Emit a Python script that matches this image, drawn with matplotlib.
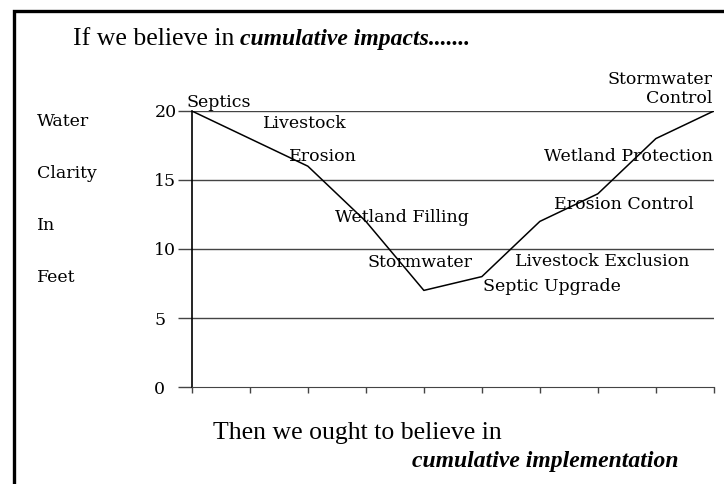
import matplotlib.pyplot as plt
from matplotlib.patches import Rectangle

# water clarity (feet) after each step
steps = ["Septics", "Livestock", "Erosion", "Wetland Filling", "Stormwater",
         "Septic Upgrade", "Livestock Exclusion", "Erosion Control",
         "Wetland Protection", "Stormwater\nControl"]
x = list(range(10))
clarity = [20, 18, 16, 12, 7, 8, 12, 14, 18, 20]
yticks = [0, 5, 10, 15, 20]

# label positions (data coords) and alignment
lab_x = [-0.10, 1.22, 1.67, 2.47, 3.02, 5.02, 5.57, 6.24, 8.98, 8.98]
lab_y = [20.6, 19.1, 16.7, 12.3, 9.0, 7.25, 9.1, 13.2, 16.7, 21.6]
lab_ha = ["left"] * 8 + ["right", "right"]

serif = ["DejaVu Serif"]
times = ["Liberation Serif"]

fig = plt.figure(figsize=(7.24, 4.84), dpi=100)
ax = fig.add_axes([0.265, 0.2004, 0.721, 0.5703])

for yv in yticks[1:]:
    ax.axhline(yv, color="#444444", lw=1.0, zorder=1)
ax.plot(x, clarity, color="black", lw=1.1, zorder=3)

ax.set_xlim(0, 9)
ax.set_ylim(0, 20)
ax.set_xticks(x)
ax.set_xticklabels([])
ax.set_yticks(yticks)
ax.set_yticklabels([str(v) for v in yticks], family=serif, fontsize=12.5)
for lbl in ax.get_yticklabels():
    lbl.set_ha("left")
ax.tick_params(axis="y", length=10, width=1.0, color="#444444", pad=17)
ax.tick_params(axis="x", direction="out", length=4, width=1.0, color="#444444")
for s in ["top", "right"]:
    ax.spines[s].set_visible(False)
ax.spines["left"].set_linewidth(1.2)
ax.spines["bottom"].set_color("#444444")
ax.set_facecolor("none")

for name, lx, ly, ha in zip(steps, lab_x, lab_y, lab_ha):
    ax.text(lx, ly, name, ha=ha, va="center", family=serif, fontsize=12.5,
            linespacing=1.1, clip_on=False, zorder=4)

# y label stacked at the left
for i, w in enumerate(["Water", "Clarity", "In", "Feet"]):
    fig.text(37 / 724, 1 - (121 + 52 * i) / 484, w, ha="left", va="center",
             family=serif, fontsize=12.5)

t1 = fig.text(73 / 724, 1 - 39 / 484, "If we believe in", ha="left", va="center",
              family=times, fontsize=18.5)
fig.canvas.draw()
bb = t1.get_window_extent()
fig.text((bb.x1 + 6) / 724, 1 - 39 / 484, "cumulative impacts.......", ha="left",
         va="center", family=times, fontsize=17, style="italic", weight="bold")

fig.text(213 / 724, 1 - 433 / 484, "Then we ought to believe in", ha="left", va="center",
         family=times, fontsize=18.5)
fig.text(679 / 724, 1 - 461 / 484, "cumulative implementation", ha="right", va="center",
         family=times, fontsize=17, style="italic", weight="bold")

# frame around the slide
fig.patches.append(Rectangle((14 / 724, -0.1), 1.2, 1 - 11 / 484 + 0.1,
                             transform=fig.transFigure, fill=False,
                             ec="black", lw=2.4))

fig.savefig("out.png", dpi=100)
